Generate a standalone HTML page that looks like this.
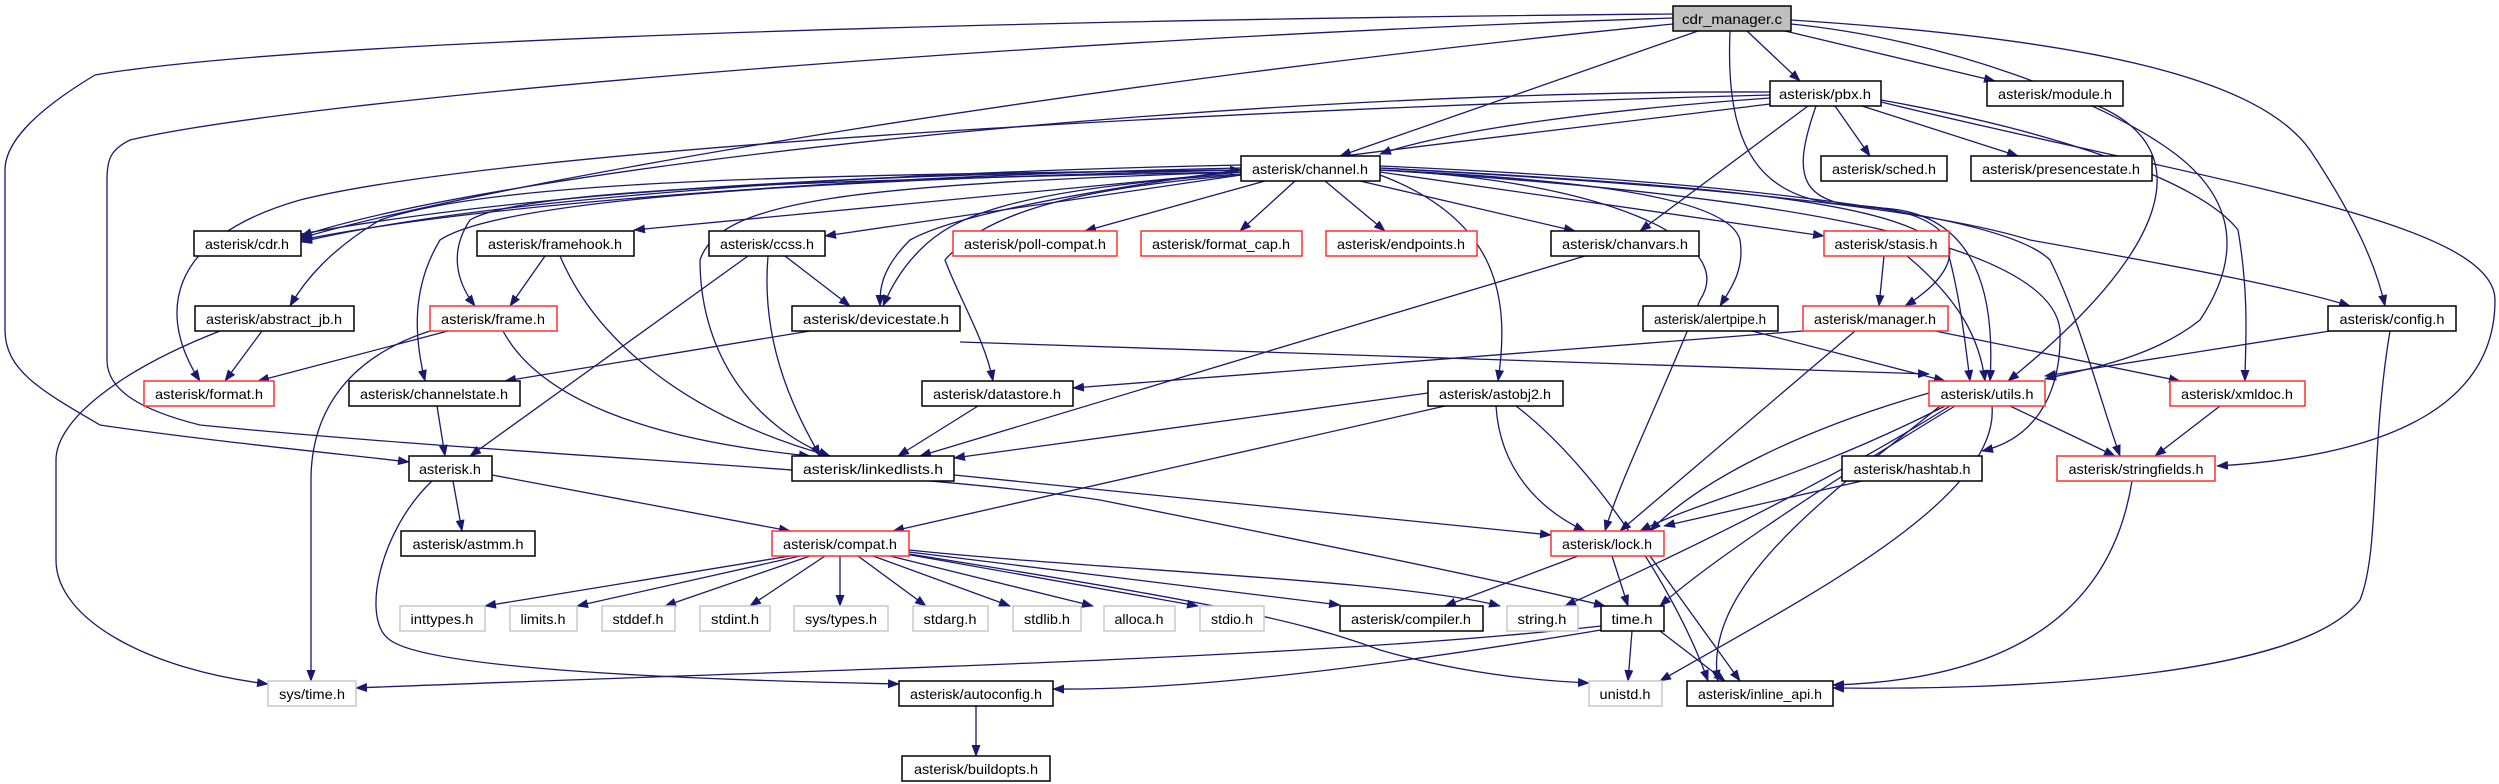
<!DOCTYPE html>
<html><head><meta charset="utf-8"><style>
html,body{margin:0;padding:0;background:#fff;}
svg{display:block;}
text{font-family:"Liberation Sans",sans-serif;font-size:14px;fill:#000;}
</style></head><body>
<svg width="2499" height="784" viewBox="0 0 2499 784" xmlns="http://www.w3.org/2000/svg">
<defs><marker id="a" markerUnits="userSpaceOnUse" markerWidth="12" markerHeight="9" refX="11" refY="4.5" orient="auto"><path d="M0,0 L12,4.5 L0,9 z" fill="#191970"/></marker></defs>
<g fill="none" stroke="#191970" stroke-width="1.3" marker-end="url(#a)">
<!-- cdr_manager -->
<path d="M1747,31 L1800,81"/>
<path d="M1785,31 L1995,81"/>
<path d="M1698,31 L1340,156"/>
<path d="M1673,24 C1100,80 500,180 301,238"/>
<path d="M1673,14 C1000,20 300,40 95,75 C20,120 5,150 5,170 L5,330 C5,370 40,390 100,425 C200,440 350,455 409,462"/>
<path d="M1673,18 C1000,40 300,100 130,140 C110,150 107,160 107,180 L107,360 C107,390 140,410 200,425 C500,455 900,470 1100,500 C1300,540 1500,580 1605,606"/>
<path d="M1791,20 C2100,40 2260,80 2310,150 C2350,210 2375,260 2385,306"/>
<path d="M1791,24 C1950,40 2100,100 2170,150 C2240,200 2240,260 2200,320 C2150,360 2080,370 2045,379"/>
<path d="M1730,31 C1725,150 1760,200 1850,205 C1960,210 1980,260 1905,306"/>
<!-- pbx -->
<path d="M1770,98 C1600,110 1450,130 1380,154"/>
<path d="M1770,92 C1200,90 500,170 301,236"/>
<path d="M1770,95 C1200,110 500,150 300,200 C160,240 160,320 200,381"/>
<path d="M1835,106 L1870,156"/>
<path d="M1862,106 L2018,156"/>
<path d="M1808,106 L1640,231"/>
<path d="M1770,104 C1400,150 1000,190 910,240 C880,270 880,290 880,306"/>
<path d="M1816,106 C1790,180 1800,205 1880,208 C1980,212 1995,300 1990,381"/>
<path d="M1881,100 C2050,130 2200,180 2238,230 C2250,300 2245,350 2245,381"/>
<path d="M1881,102 C2200,180 2495,220 2495,300 C2495,400 2400,455 2217,466"/>
<!-- module -->
<path d="M2098,106 C2200,150 2170,250 2008,381"/>
<!-- channel -->
<path d="M1241,168 C900,175 500,200 301,240"/>
<path d="M1241,165 C900,172 500,195 301,242"/>
<path d="M301,234 C600,180 1000,172 1241,170"/>
<path d="M1241,172 L634,230"/>
<path d="M1241,175 L825,236"/>
<path d="M1241,170 C800,175 500,180 380,220 C330,250 305,280 290,306"/>
<path d="M1241,172 C800,180 520,190 470,220 C450,250 455,280 475,306"/>
<path d="M1241,170 C800,180 500,200 440,240 C410,290 415,340 425,381"/>
<path d="M1241,172 C850,185 720,200 700,260 C700,360 760,430 830,456"/>
<path d="M1241,174 C1000,190 950,220 920,250 C900,270 890,290 883,306"/>
<path d="M1241,175 C1050,190 980,220 945,260 C960,300 985,340 993,381"/>
<path d="M1265,181 L1085,231"/>
<path d="M1295,181 L1240,231"/>
<path d="M1325,181 L1385,231"/>
<path d="M1360,181 L1575,231"/>
<path d="M1380,175 C1500,220 1510,300 1498,381"/>
<path d="M1380,170 C1600,180 1730,200 1740,240 C1745,270 1730,290 1720,306"/>
<path d="M1380,172 L1824,236"/>
<path d="M1380,168 C1600,180 1900,200 2030,240 C2200,270 2300,290 2350,306"/>
<path d="M1380,170 C1600,180 1740,240 1700,300 C1660,400 1620,480 1605,531"/>
<path d="M1380,168 C1700,185 1930,200 1950,260 C1960,300 1965,340 1970,381"/>
<path d="M1380,166 C1700,180 2000,210 2050,260 C2080,320 2100,400 2120,456"/>
<path d="M1380,170 C1700,190 2050,230 2060,330 C2062,400 2030,440 1982,451"/>
<!-- row3 -->
<path d="M545,256 L510,306"/>
<path d="M560,256 C600,350 700,420 830,456"/>
<path d="M748,256 L470,456"/>
<path d="M785,256 L850,306"/>
<path d="M768,256 C760,350 800,420 820,456"/>
<path d="M1585,256 L920,456"/>
<path d="M1884,256 L1879,306"/>
<path d="M1907,256 C1960,300 1980,340 1985,381"/>
<!-- row4 -->
<path d="M262,331 L225,381"/>
<path d="M220,331 C120,370 56,420 56,460 L56,560 C56,620 150,670 268,684"/>
<path d="M448,331 L258,381"/>
<path d="M430,331 C340,360 311,420 311,480 L311,681"/>
<path d="M503,331 C540,400 650,440 810,456"/>
<path d="M810,331 L505,381"/>
<path d="M960,342 L1929,374"/>
<path d="M1752,331 L1945,381"/>
<path d="M1803,331 L1073,388"/>
<path d="M1855,331 L1620,531"/>
<path d="M1935,331 L2180,381"/>
<path d="M2330,331 L2045,376"/>
<path d="M2390,331 C2370,450 2380,550 2360,600 C2300,680 2000,690 1833,688"/>
<!-- row5 -->
<path d="M437,406 L445,456"/>
<path d="M978,406 L898,456"/>
<path d="M1428,393 L954,458"/>
<path d="M1445,406 L893,531"/>
<path d="M1496,406 C1500,470 1540,510 1585,531"/>
<path d="M1516,406 C1600,470 1680,600 1708,681"/>
<path d="M1929,393 C1800,430 1700,480 1650,531"/>
<path d="M1945,406 C1800,480 1700,500 1640,531"/>
<path d="M1950,406 C1800,500 1600,590 1565,606"/>
<path d="M1955,406 C1800,500 1700,570 1660,606"/>
<path d="M1992,406 C2000,500 1800,600 1660,681"/>
<path d="M2010,406 L2115,456"/>
<path d="M1940,406 C1850,480 1700,580 1718,681"/>
<path d="M2220,406 L2155,456"/>
<!-- row6 -->
<path d="M2132,481 C2110,620 2000,680 1833,685"/>
<path d="M1862,481 L1664,526"/>
<path d="M453,481 L462,531"/>
<path d="M492,475 L790,531"/>
<path d="M432,481 C380,530 360,620 390,640 C430,670 700,680 899,684"/>
<path d="M954,475 L1551,535"/>
<!-- compat -->
<path d="M790,556 L485,606"/>
<path d="M800,556 L577,606"/>
<path d="M810,556 L665,606"/>
<path d="M825,556 L750,606"/>
<path d="M840,556 L840,606"/>
<path d="M858,556 L926,606"/>
<path d="M873,556 L1010,606"/>
<path d="M890,556 L1093,606"/>
<path d="M905,554 L1198,606"/>
<path d="M909,552 L1340,605"/>
<path d="M909,550 C1100,570 1400,580 1500,606"/>
<path d="M909,554 C1200,600 1300,620 1380,650 C1450,670 1520,680 1589,683"/>
<!-- lock -->
<path d="M1578,556 L1445,606"/>
<path d="M1612,556 L1628,606"/>
<path d="M1650,556 L1740,681"/>
<!-- time -->
<path d="M1601,626 C1300,660 800,670 356,688"/>
<path d="M1601,630 C1300,680 1150,690 1053,689"/>
<path d="M1632,631 L1628,681"/>
<path d="M1660,631 L1725,681"/>
<path d="M976,706 L976,756"/>
</g>
<g stroke-width="1.5">
<rect x="1673" y="6" width="118" height="25" fill="#bfbfbf" stroke="#000"/><text x="1732" y="24" text-anchor="middle" textLength="100" lengthAdjust="spacingAndGlyphs">cdr_manager.c</text>
<g fill="#fff" stroke="#000">
<rect x="1770" y="81" width="111" height="25"/><rect x="1987" y="81" width="136" height="25"/>
<rect x="1241" y="156" width="139" height="25"/><rect x="1821" y="156" width="126" height="25"/><rect x="1971" y="156" width="181" height="25"/>
<rect x="194" y="231" width="107" height="25"/><rect x="477" y="231" width="157" height="25"/><rect x="709" y="231" width="116" height="25"/><rect x="1551" y="231" width="148" height="25"/>
<rect x="195" y="306" width="159" height="25"/><rect x="792" y="306" width="168" height="25"/><rect x="1643" y="306" width="135" height="25"/><rect x="2328" y="306" width="128" height="25"/>
<rect x="349" y="381" width="171" height="25"/><rect x="922" y="381" width="151" height="25"/><rect x="1428" y="381" width="135" height="25"/>
<rect x="409" y="456" width="83" height="25"/><rect x="792" y="456" width="162" height="25"/><rect x="1842" y="456" width="140" height="25"/>
<rect x="401" y="531" width="134" height="25"/>
<rect x="1340" y="606" width="143" height="25"/><rect x="1601" y="606" width="63" height="25"/>
<rect x="899" y="681" width="154" height="25"/><rect x="1687" y="681" width="146" height="25"/>
<rect x="902" y="756" width="148" height="25"/>
</g>
<g fill="#fff" stroke="#ff3030">
<rect x="953" y="231" width="164" height="25"/><rect x="1141" y="231" width="161" height="25"/><rect x="1326" y="231" width="151" height="25"/><rect x="1824" y="231" width="125" height="25"/>
<rect x="430" y="306" width="127" height="25"/><rect x="1803" y="306" width="145" height="25"/>
<rect x="144" y="381" width="130" height="25"/><rect x="1929" y="381" width="116" height="25"/><rect x="2170" y="381" width="135" height="25"/>
<rect x="2057" y="456" width="158" height="25"/>
<rect x="772" y="531" width="137" height="25"/><rect x="1551" y="531" width="113" height="25"/>
</g>
<g fill="#fff" stroke="#c8c8c8">
<rect x="400" y="606" width="85" height="25"/><rect x="510" y="606" width="67" height="25"/><rect x="602" y="606" width="73" height="25"/><rect x="700" y="606" width="70" height="25"/><rect x="794" y="606" width="94" height="25"/><rect x="913" y="606" width="75" height="25"/><rect x="1013" y="606" width="68" height="25"/><rect x="1104" y="606" width="71" height="25"/><rect x="1200" y="606" width="64" height="25"/><rect x="1507" y="606" width="71" height="25"/>
<rect x="268" y="681" width="88" height="25"/><rect x="1589" y="681" width="73" height="25"/>
</g>
</g>
<g text-anchor="middle" lengthAdjust="spacingAndGlyphs">
<text x="1825" y="99" textLength="92" lengthAdjust="spacingAndGlyphs">asterisk/pbx.h</text>
<text x="2055" y="99" textLength="114" lengthAdjust="spacingAndGlyphs">asterisk/module.h</text>
<text x="1310" y="174" textLength="116" lengthAdjust="spacingAndGlyphs">asterisk/channel.h</text>
<text x="1884" y="174" textLength="104" lengthAdjust="spacingAndGlyphs">asterisk/sched.h</text>
<text x="2061" y="174" textLength="158" lengthAdjust="spacingAndGlyphs">asterisk/presencestate.h</text>
<text x="247" y="249" textLength="84" lengthAdjust="spacingAndGlyphs">asterisk/cdr.h</text>
<text x="555" y="249" textLength="134" lengthAdjust="spacingAndGlyphs">asterisk/framehook.h</text>
<text x="767" y="249" textLength="94" lengthAdjust="spacingAndGlyphs">asterisk/ccss.h</text>
<text x="1035" y="249" textLength="142" lengthAdjust="spacingAndGlyphs">asterisk/poll-compat.h</text>
<text x="1221" y="249" textLength="138" lengthAdjust="spacingAndGlyphs">asterisk/format_cap.h</text>
<text x="1401" y="249" textLength="128" lengthAdjust="spacingAndGlyphs">asterisk/endpoints.h</text>
<text x="1625" y="249" textLength="126" lengthAdjust="spacingAndGlyphs">asterisk/chanvars.h</text>
<text x="1886" y="249" textLength="103" lengthAdjust="spacingAndGlyphs">asterisk/stasis.h</text>
<text x="274" y="324" textLength="136" lengthAdjust="spacingAndGlyphs">asterisk/abstract_jb.h</text>
<text x="493" y="324" textLength="104" lengthAdjust="spacingAndGlyphs">asterisk/frame.h</text>
<text x="876" y="324" textLength="146" lengthAdjust="spacingAndGlyphs">asterisk/devicestate.h</text>
<text x="1710" y="324" textLength="112" lengthAdjust="spacingAndGlyphs">asterisk/alertpipe.h</text>
<text x="1875" y="324" textLength="122" lengthAdjust="spacingAndGlyphs">asterisk/manager.h</text>
<text x="2392" y="324" textLength="105" lengthAdjust="spacingAndGlyphs">asterisk/config.h</text>
<text x="209" y="399" textLength="108" lengthAdjust="spacingAndGlyphs">asterisk/format.h</text>
<text x="434" y="399" textLength="148" lengthAdjust="spacingAndGlyphs">asterisk/channelstate.h</text>
<text x="997" y="399" textLength="128" lengthAdjust="spacingAndGlyphs">asterisk/datastore.h</text>
<text x="1495" y="399" textLength="112" lengthAdjust="spacingAndGlyphs">asterisk/astobj2.h</text>
<text x="1987" y="399" textLength="93" lengthAdjust="spacingAndGlyphs">asterisk/utils.h</text>
<text x="2237" y="399" textLength="112" lengthAdjust="spacingAndGlyphs">asterisk/xmldoc.h</text>
<text x="450" y="474" textLength="62" lengthAdjust="spacingAndGlyphs">asterisk.h</text>
<text x="873" y="474" textLength="140" lengthAdjust="spacingAndGlyphs">asterisk/linkedlists.h</text>
<text x="1912" y="474" textLength="117" lengthAdjust="spacingAndGlyphs">asterisk/hashtab.h</text>
<text x="2136" y="474" textLength="135" lengthAdjust="spacingAndGlyphs">asterisk/stringfields.h</text>
<text x="468" y="549" textLength="111" lengthAdjust="spacingAndGlyphs">asterisk/astmm.h</text>
<text x="840" y="549" textLength="114" lengthAdjust="spacingAndGlyphs">asterisk/compat.h</text>
<text x="1607" y="549" textLength="90" lengthAdjust="spacingAndGlyphs">asterisk/lock.h</text>
<g style="fill:#000">
<text x="442" y="624" textLength="63" lengthAdjust="spacingAndGlyphs">inttypes.h</text>
<text x="543" y="624" textLength="45" lengthAdjust="spacingAndGlyphs">limits.h</text>
<text x="638" y="624" textLength="51" lengthAdjust="spacingAndGlyphs">stddef.h</text>
<text x="735" y="624" textLength="48" lengthAdjust="spacingAndGlyphs">stdint.h</text>
<text x="841" y="624" textLength="72" lengthAdjust="spacingAndGlyphs">sys/types.h</text>
<text x="950" y="624" textLength="53" lengthAdjust="spacingAndGlyphs">stdarg.h</text>
<text x="1047" y="624" textLength="46" lengthAdjust="spacingAndGlyphs">stdlib.h</text>
<text x="1139" y="624" textLength="49" lengthAdjust="spacingAndGlyphs">alloca.h</text>
<text x="1232" y="624" textLength="42" lengthAdjust="spacingAndGlyphs">stdio.h</text>
<text x="1411" y="624" textLength="120" lengthAdjust="spacingAndGlyphs">asterisk/compiler.h</text>
<text x="1542" y="624" textLength="49" lengthAdjust="spacingAndGlyphs">string.h</text>
<text x="1632" y="624" textLength="41" lengthAdjust="spacingAndGlyphs">time.h</text>
<text x="312" y="699" textLength="66" lengthAdjust="spacingAndGlyphs">sys/time.h</text>
<text x="976" y="699" textLength="132" lengthAdjust="spacingAndGlyphs">asterisk/autoconfig.h</text>
<text x="1625" y="699" textLength="51" lengthAdjust="spacingAndGlyphs">unistd.h</text>
<text x="1760" y="699" textLength="124" lengthAdjust="spacingAndGlyphs">asterisk/inline_api.h</text>
<text x="976" y="774" textLength="124" lengthAdjust="spacingAndGlyphs">asterisk/buildopts.h</text>
</g>
</g>
</svg>
</body></html>
